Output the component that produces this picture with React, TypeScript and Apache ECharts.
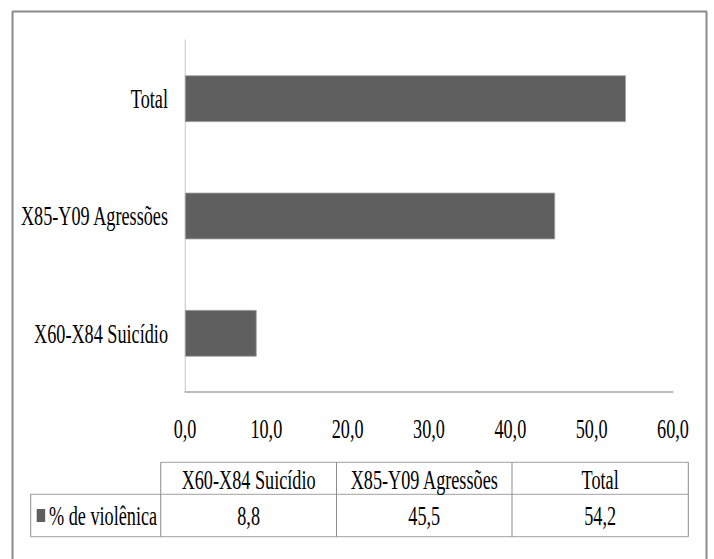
import React, { useEffect, useRef } from "react";
import * as echarts from "echarts";

const categories = ["X60-X84 Suicídio", "X85-Y09 Agressões", "Total"];
const values = [8.8, 45.5, 54.2];
const seriesName = "% de violênica";
const xMin = 0;
const xMax = 60;
const xStep = 10;

const S = 0.65; // horizontal compression of the original picture
const W = 714 / S;
const H = 559;

const fmt = (v: number) => v.toFixed(1).replace(".", ",");

export default function App() {
  const ref = useRef<HTMLDivElement>(null);
  useEffect(() => {
    const el = ref.current!;
    const chart = echarts.init(el, null, { renderer: "svg", width: W, height: H });
    const X = (x: number) => x / S;
    const font = "Liberation Serif";
    const fs = 28;
    const tableLine = "#8c8c8c";
    const colEdges = [160.7, 336.5, 512, 688.3];
    const rowEdges = [462.3, 494.3, 536.7];
    const tableLeft = 30.7;
    const g: any[] = [];
    const hLine = (x1: number, x2: number, y: number, color: string, w: number) =>
      g.push({ type: "line", silent: true, shape: { x1: X(x1), y1: y, x2: X(x2), y2: y }, style: { stroke: color, lineWidth: w } });
    const vLine = (x: number, y1: number, y2: number, color: string, w: number) =>
      g.push({ type: "line", silent: true, shape: { x1: X(x), y1, x2: X(x), y2 }, style: { stroke: color, lineWidth: w / S } });
    const txt = (text: string, x: number, y: number, align: string) =>
      g.push({
        type: "text",
        silent: true,
        x,
        y,
        style: { text, fill: "#000", fontFamily: font, fontSize: fs, align, verticalAlign: "middle" },
      });

    // outer frame
    hLine(12, 707, 11.5, "#8a8a8a", 2);
    vLine(12.5, 11.5, 600, "#8a8a8a", 2);
    vLine(706.5, 11.5, 600, "#8a8a8a", 2);

    // data table
    hLine(colEdges[0], colEdges[3], rowEdges[0], tableLine, 1);
    hLine(tableLeft, colEdges[3], rowEdges[1], tableLine, 1);
    hLine(tableLeft, colEdges[3], rowEdges[2], tableLine, 1);
    vLine(tableLeft, rowEdges[1], rowEdges[2], tableLine, 1);
    colEdges.forEach((c) => vLine(c, rowEdges[0], rowEdges[2], tableLine, 1));

    const headY = (rowEdges[0] + rowEdges[1]) / 2 + 1;
    const dataY = (rowEdges[1] + rowEdges[2]) / 2;
    categories.forEach((c, i) => {
      const cx = X((colEdges[i] + colEdges[i + 1]) / 2);
      txt(c, cx, headY, "center");
      txt(fmt(values[i]), cx, dataY, "center");
    });
    // legend key in table
    g.push({ type: "rect", silent: true, shape: { x: X(36.7), y: dataY - 6.5, width: 13, height: 13 }, style: { fill: "#5f5f5f" } });
    txt(seriesName, X(49), dataY, "left");

    chart.setOption({
      animation: false,
      backgroundColor: "#ffffff",
      textStyle: { fontFamily: font },
      grid: { left: X(185), right: X(714 - 673), top: 40, bottom: 559 - 392, containLabel: false },
      xAxis: {
        type: "value",
        min: xMin,
        max: xMax,
        interval: xStep,
        axisLine: { show: true, lineStyle: { color: "#a6a6a6", width: 1.5 } },
        axisTick: { show: false },
        splitLine: { show: false },
        axisLabel: { margin: 23, color: "#000", fontFamily: font, fontSize: fs, formatter: (v: number) => fmt(v) },
      },
      yAxis: {
        type: "category",
        data: categories,
        axisLine: { show: true, lineStyle: { color: "#c4c4c4", width: 1 / S } },
        axisTick: { show: false },
        splitLine: { show: false },
        axisLabel: { margin: X(17), color: "#000", fontFamily: font, fontSize: fs },
      },
      series: [
        {
          name: seriesName,
          type: "bar",
          data: values,
          barWidth: "40%",
          itemStyle: { color: "#5f5f5f", borderColor: "#a3a3a3", borderWidth: 1 },
        },
      ],
      graphic: g,
    });
    return () => chart.dispose();
  }, []);

  return (
    <div style={{ position: "fixed", left: 0, top: 0, width: 714, height: 559, overflow: "hidden", background: "#fff" }}>
      <div ref={ref} style={{ width: W, height: H, transform: `scaleX(${S})`, transformOrigin: "0 0" }} />
    </div>
  );
}
